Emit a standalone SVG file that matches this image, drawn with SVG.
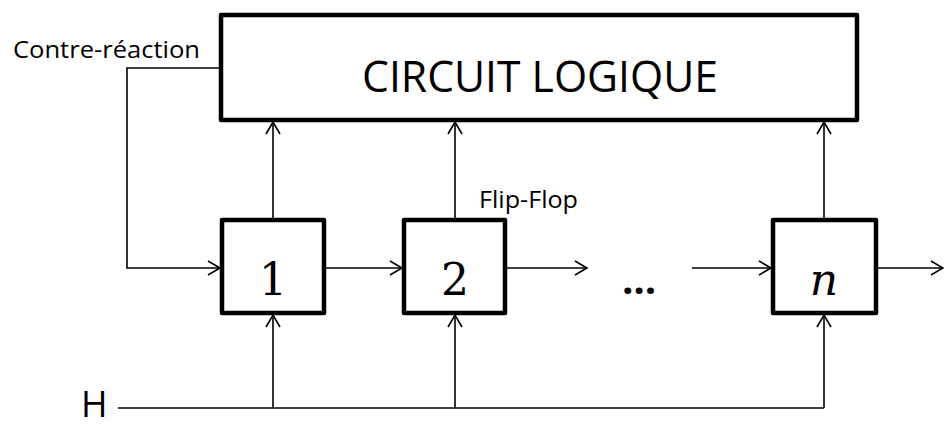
<svg xmlns="http://www.w3.org/2000/svg" width="944" height="429" viewBox="0 0 944 429">
<style>
.box{fill:#fff;stroke:#000;stroke-width:4.5;stroke-linejoin:round}
.con{fill:none;stroke:#000;stroke-width:1.6}
.lbl{font-family:"Open Sans","Liberation Sans",sans-serif;fill:#000}
.num{font-family:"DejaVu Serif","Liberation Serif",serif;fill:#000;font-size:44px;text-anchor:middle}
</style>
<defs>
<marker id="ah" markerUnits="userSpaceOnUse" markerWidth="18" markerHeight="18" viewBox="-15 -9 18 18" refX="0" refY="0" orient="auto">
<path d="M-12,-7 L0,0 L-12,7" fill="none" stroke="#000" stroke-width="1.6"/>
</marker>
</defs>
<g id="connectors">
<polyline class="con" points="221,68 127,68 127,268 220,268" marker-end="url(#ah)"/>
<line class="con" x1="326" y1="268" x2="402" y2="268" marker-end="url(#ah)"/>
<line class="con" x1="507" y1="268" x2="587" y2="268" marker-end="url(#ah)"/>
<line class="con" x1="692" y1="268" x2="771" y2="268" marker-end="url(#ah)"/>
<line class="con" x1="878" y1="268" x2="943" y2="268" marker-end="url(#ah)"/>
<line class="con" x1="273" y1="218" x2="273" y2="122" marker-end="url(#ah)"/>
<line class="con" x1="455" y1="218" x2="455" y2="122" marker-end="url(#ah)"/>
<line class="con" x1="824" y1="218" x2="824" y2="122" marker-end="url(#ah)"/>
<polyline class="con" points="118,408 824,408"/>
<line class="con" x1="273" y1="408" x2="273" y2="315" marker-end="url(#ah)"/>
<line class="con" x1="455" y1="408" x2="455" y2="315" marker-end="url(#ah)"/>
<line class="con" x1="824" y1="408" x2="824" y2="315" marker-end="url(#ah)"/>
</g>
<g id="circuit-logique">
<rect class="box" x="221" y="15" width="636" height="105"/>
<text class="lbl" x="362" y="92" font-size="43" textLength="356" lengthAdjust="spacingAndGlyphs">CIRCUIT LOGIQUE</text>
</g>
<g id="ff1">
<rect class="box" x="222" y="220" width="102" height="93"/>
<text class="num" x="273" y="295">1</text>
</g>
<g id="ff2">
<rect class="box" x="404" y="220" width="101" height="93"/>
<text class="num" x="455" y="295">2</text>
</g>
<g id="ffn">
<rect class="box" x="773" y="220" width="103" height="93"/>
<text class="num" x="824" y="295" font-style="italic">n</text>
</g>
<g id="labels">
<text class="lbl" x="81" y="417" font-size="36">H</text>
<text class="lbl" x="13" y="58" font-size="24" textLength="187" lengthAdjust="spacingAndGlyphs">Contre-réaction</text>
<text class="lbl" x="479" y="208" font-size="24" textLength="99" lengthAdjust="spacingAndGlyphs">Flip-Flop</text>
<text class="lbl" x="639" y="294" font-size="40" font-weight="bold" text-anchor="middle">…</text>
</g>
</svg>
